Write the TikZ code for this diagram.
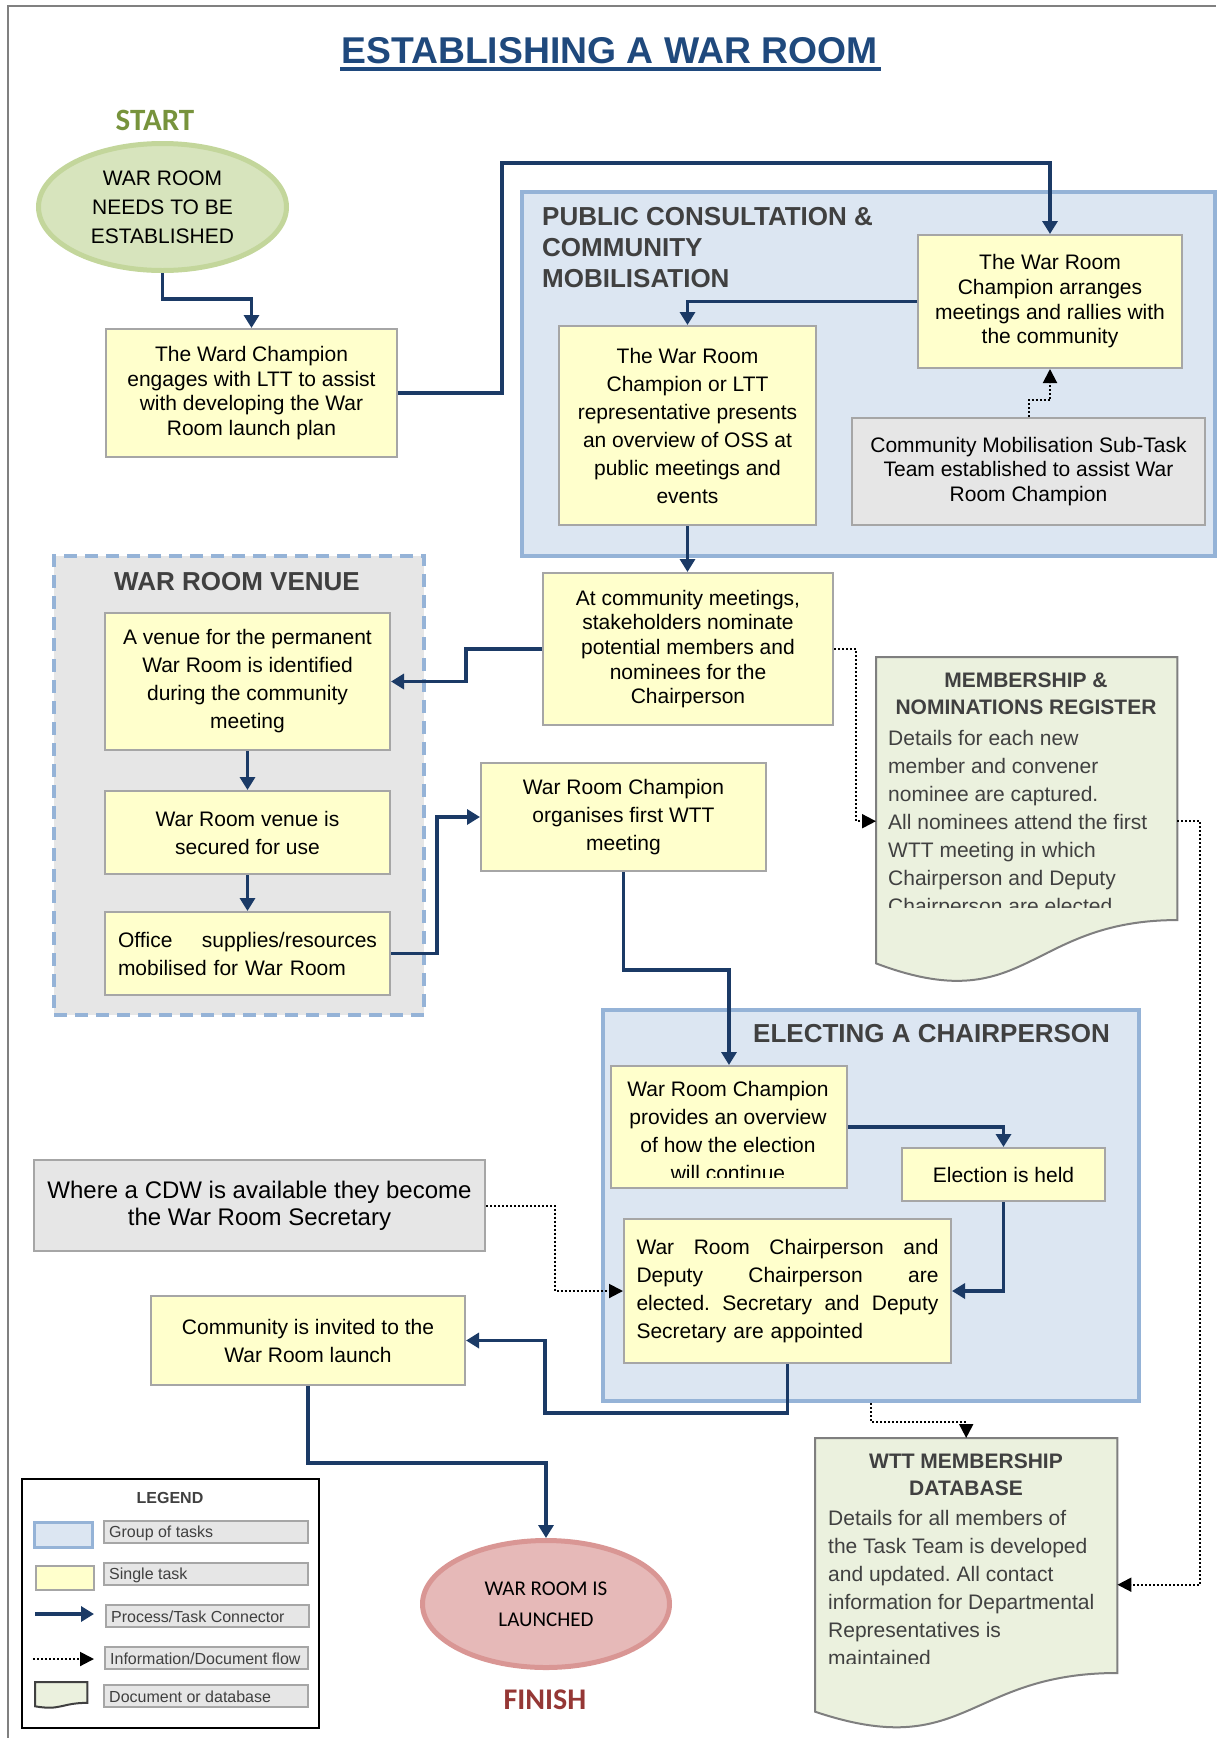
\documentclass[tikz,border=0pt]{standalone}
\usepackage{fontspec}
\setmainfont{Liberation Sans}
\newfontfamily\carlito{Carlito}
\usetikzlibrary{arrows.meta,shapes.geometric,calc}
\frenchspacing

\definecolor{connblue}{HTML}{1B3A66}
\definecolor{taskfill}{HTML}{FFFFCC}
\definecolor{boxline}{HTML}{A6A6A6}
\definecolor{groupfill}{HTML}{DCE6F2}
\definecolor{groupline}{HTML}{95B3D7}
\definecolor{greyfill}{HTML}{E6E6E6}
\definecolor{docfill}{HTML}{EBF1DE}
\definecolor{docline}{HTML}{7F7F7F}
\definecolor{headgrey}{HTML}{404040}
\definecolor{titleblue}{HTML}{1F497D}
\definecolor{startgreen}{HTML}{77933C}
\definecolor{startfill}{HTML}{D7E4BD}
\definecolor{startline}{HTML}{C3D69B}
\definecolor{endfill}{HTML}{E6B9B8}
\definecolor{endline}{HTML}{D99694}
\definecolor{finishred}{HTML}{953735}
\definecolor{framegrey}{HTML}{808080}

\newcommand\setfs[2]{\fontsize{#1}{#2}\selectfont}
% document outline with a wavy bottom edge, drawn over a named area node
% #1 style, #2 node name, #3 height of the area
\newcommand\drawdoc[3]{%
  \draw[#1] (#2.north west) -- (#2.north east)
    -- ($(#2.north east)+(0,0.802*#3)$)
    .. controls ($(#2.north)+(0,0.802*#3)$) and ($(#2.north)+(0,1.1075*#3)$) ..
    ($(#2.north west)+(0,0.934*#3)$) -- cycle;}

\begin{document}
\begin{tikzpicture}[x=1pt,y=-1pt,
  box/.style={draw=boxline, line width=2pt, anchor=north west, inner sep=0pt, align=center},
  task/.style={box, fill=taskfill},
  note/.style={box, fill=greyfill},
  tight/.style={font=\setfs{21}{24.7}},
  loose/.style={font=\setfs{21}{28}},
  group/.style={draw=groupline, line width=4pt, fill=groupfill, anchor=north west, inner sep=0pt},
  grouptitle/.style={text=headgrey, font=\bfseries\setfs{26}{31}, inner sep=0pt},
  conn/.style={draw=connblue, line width=3.5pt, -{Triangle[width=15pt,length=13pt]}},
  info/.style={draw=black, line width=2pt, dash pattern=on 2pt off 2pt, -{Triangle[width=14pt,length=14pt]}},
  doc/.style={draw=docline, line width=2pt, fill=docfill},
  docarea/.style={anchor=north west, inner sep=0pt},
  doctitle/.style={text=headgrey, font=\bfseries\setfs{21}{27}, inner sep=0pt, align=center},
  doctext/.style={text=headgrey, font=\setfs{21}{28}, inner sep=0pt, align=left, anchor=north west},
  keylabel/.style={draw=boxline, line width=1.5pt, fill=greyfill, anchor=north west, inner sep=0pt,
    minimum height=22pt},
  keytext/.style={text=headgrey, font=\setfs{16}{18}, inner sep=0pt, anchor=west},
]
\useasboundingbox (0,0) rectangle (1216,1738);

% page frame
\draw[framegrey, line width=2pt] (8,1738) -- (8,6) -- (1216,6);

% heading
\node[anchor=base, text=titleblue, font=\bfseries\setfs{37.3}{44}, inner sep=0pt] (title) at (609.5,63) {ESTABLISHING A WAR ROOM};
\draw[titleblue, line width=4pt] ($(title.base west)+(-1,6)$) -- ($(title.base east)+(3,6)$);

% start
\node[anchor=base, text=startgreen, font=\carlito\bfseries\setfs{31}{36}, inner sep=0pt] (starthead) at (155,130) {START};
\node[ellipse, draw=startline, line width=5pt, fill=startfill, minimum width=248pt, minimum height=127pt,
  inner sep=0pt, align=center, font=\setfs{21}{29}] (start) at (162.5,207) {WAR ROOM\\NEEDS TO BE\\ESTABLISHED};

\node[task, tight, minimum width=291pt, minimum height=128pt] (ward) at (105,328)
  {The Ward Champion\\engages with LTT to assist\\with developing the War\\Room launch plan};

% public consultation group
\node[group, minimum width=693pt, minimum height=364pt] (pubgroup) at (520,190) {};
\node[grouptitle, anchor=west, align=left] (pubtitle) at (542,248) {PUBLIC CONSULTATION \&\\COMMUNITY\\MOBILISATION};
\node[task, tight, minimum width=264pt, minimum height=133pt] (arranges) at (917,234)
  {The War Room\\Champion arranges\\meetings and rallies with\\the community};
\node[task, loose, minimum width=257pt, minimum height=199pt] (overview) at (558,325)
  {The War Room\\Champion or LTT\\representative presents\\an overview of OSS at\\public meetings and\\events};
\node[note, tight, minimum width=353pt, minimum height=107pt] (subtask) at (851,417)
  {Community Mobilisation Sub-Task\\Team established to assist War\\Room Champion};

\node[task, tight, minimum width=290pt, minimum height=152pt] (community) at (542,572)
  {At community meetings,\\stakeholders nominate\\potential members and\\nominees for the\\Chairperson};

% venue group
\node[draw=groupline, line width=4pt, dash pattern=on 13pt off 8pt, fill=greyfill, anchor=north west,
  inner sep=0pt, minimum width=370pt, minimum height=459pt] (venuegroup) at (52,554) {};
\node[grouptitle] (venuetitle) at (237,582) {WAR ROOM VENUE};
\node[task, loose, minimum width=285pt, minimum height=137pt] (venueid) at (104,612)
  {A venue for the permanent\\War Room is identified\\during the community\\meeting};
\node[task, loose, minimum width=285pt, minimum height=83pt] (secured) at (104,790)
  {War Room venue is\\secured for use};
\node[task, loose, minimum width=285pt, minimum height=83pt, text width=259pt, align=left] (office) at (104,911)
  {Office\hfill supplies/resources\\mobilised for War Room};

\node[task, loose, minimum width=285pt, minimum height=108pt] (organises) at (480,762)
  {War Room Champion\\organises first WTT\\meeting};

% membership register
\node[docarea, minimum width=301pt, minimum height=328pt] (register) at (876,657) {};
\drawdoc{doc}{register}{328}
\node[doctitle] (registertitle) at (1026,694) {MEMBERSHIP \&\\NOMINATIONS REGISTER};
\begin{scope}
  \clip (880,720) rectangle (1175,907);
  \node[doctext] (registertext) at (888,730)
    {Details for each new\\member and convener\\nominee are captured.\\All nominees attend the first\\WTT meeting in which\\Chairperson and Deputy\\Chairperson are elected};
\end{scope}

% electing group
\node[group, minimum width=536pt, minimum height=391pt] (elecgroup) at (601,1008) {};
\node[grouptitle, anchor=west] (electitle) at (753,1034) {ELECTING A CHAIRPERSON};
\node[task, minimum width=236pt, minimum height=122pt] (overview2) at (610,1065) {};
\begin{scope}
  \clip (612,1067) rectangle (844,1177);
  \node[inner sep=0pt, anchor=north, align=center, loose] (overview2text) at (728,1081)
    {War Room Champion\\provides an overview\\of how the election\\will continue};
\end{scope}
\node[task, tight, minimum width=203pt, minimum height=53pt] (election) at (901,1147) {Election is held};
\node[task, loose, minimum width=327pt, minimum height=144pt, text width=302pt, align=left] (elected) at (623,1218)
  {War\hfill Room\hfill Chairperson\hfill and\\Deputy\hfill Chairperson\hfill are\\elected.\hfill Secretary\hfill and\hfill Deputy\\Secretary are appointed};

\node[note, minimum width=451pt, minimum height=91pt, font=\setfs{24}{26.6}] (cdw) at (33,1159)
  {Where a CDW is available they become\\the War Room Secretary};
\node[task, loose, minimum width=314pt, minimum height=89pt] (invited) at (150,1295)
  {Community is invited to the\\War Room launch};

% finish
\node[ellipse, draw=endline, line width=5pt, fill=endfill, minimum width=247pt, minimum height=127pt,
  inner sep=0pt, align=center, font=\carlito\setfs{21}{31}] (launched) at (546,1604) {WAR ROOM IS\\LAUNCHED};
\node[anchor=base, text=finishred, font=\carlito\bfseries\setfs{30}{36}, inner sep=0pt] (finishhead) at (545,1709) {FINISH};

% membership database
\node[docarea, minimum width=302pt, minimum height=293pt] (database) at (815,1438) {};
\drawdoc{doc}{database}{293}
\node[doctitle] (databasetitle) at (966,1475) {WTT MEMBERSHIP\\DATABASE};
\begin{scope}
  \clip (820,1500) rectangle (1112,1663);
  \node[doctext] (databasetext) at (828,1510)
    {Details for all members of\\the Task Team is developed\\and updated. All contact\\information for Departmental\\Representatives is\\maintained};
\end{scope}

% process connectors
\draw[conn] (start.south) -- ++(0,26) -| (ward.north);
\draw[conn] (ward.east) -- ++(104,0) |- ($(arranges.north)+(0,-71)$) -- (arranges.north);
\draw[conn] (arranges.west) -| (overview.north);
\draw[conn] (overview.south) -- (overview.south |- community.north);
\draw[conn] (community.west) -- ++(-76,0) |- (venueid.east);
\draw[conn] (venueid.south) -- (venueid.south |- secured.north);
\draw[conn] (secured.south) -- (secured.south |- office.north);
\draw[conn] (office.east) -- ++(46,0) |- (organises.west);
\draw[conn] (organises.south) -- ++(0,98) -| (overview2.north);
\draw[conn] (overview2.east) -| (election.north);
\draw[conn] (election.south) |- (elected.east);
\draw[conn] (elected.south) -- ++(0,49) -| ($(invited.east)+(79,0)$) -- (invited.east);
\draw[conn] (invited.south) -- ++(0,77) -| (launched.north);

% information flows
\draw[info] (subtask.north) -- ++(0,-17) -| (arranges.south);
\draw[info] (community.east) -- ++(22,0) |- (register.west);
\draw[info] (register.east) -- ++(23,0) |- (database.east);
\draw[info] (cdw.east) -- ++(69,0) |- (elected.west);
\draw[info] (elecgroup.south) -- ++(0,19) -| (database.north);

% legend
\node[draw=black, line width=2pt, anchor=north west, minimum width=297pt, minimum height=249pt, inner sep=0pt] (legend) at (21,1478) {};
\node[text=headgrey, font=\bfseries\setfs{16}{18}, inner sep=0pt] (legendhead) at (170,1498) {LEGEND};
\node[draw=groupline, line width=3pt, fill=groupfill, anchor=north west, minimum width=58pt, minimum height=25pt, inner sep=0pt] (kgroup) at (33,1521) {};
\node[keylabel, minimum width=204pt] (kgrouplabel) at (103,1520) {};
\node[keytext] (kgrouptext) at ($(kgrouplabel.west)+(6,1.5)$) {Group of tasks};
\node[draw=boxline, line width=1.5pt, fill=taskfill, anchor=north west, minimum width=58pt, minimum height=24pt, inner sep=0pt] (ktask) at (35,1565) {};
\node[keylabel, minimum width=204pt] (ktasklabel) at (103,1562) {};
\node[keytext] (ktasktext) at ($(ktasklabel.west)+(6,1.5)$) {Single task};
\coordinate (kconnA) at (35,1614);
\coordinate (kconnB) at (94,1614);
\draw[conn] (kconnA) -- (kconnB);
\node[keylabel, minimum width=203pt] (kconnlabel) at (105,1604) {};
\node[keytext] (kconntext) at ($(kconnlabel.west)+(6,1.5)$) {Process/Task Connector};
\coordinate (kinfoA) at (33,1659);
\coordinate (kinfoB) at (94,1659);
\draw[info] (kinfoA) -- (kinfoB);
\node[keylabel, minimum width=203pt] (kinfolabel) at (104,1646) {};
\node[keytext] (kinfotext) at ($(kinfolabel.west)+(6,1.5)$) {Information/Document flow};
\node[docarea, minimum width=52pt, minimum height=26pt] (kdoc) at (35,1682) {};
\drawdoc{doc, draw=headgrey}{kdoc}{26}
\node[keylabel, minimum width=204pt] (kdoclabel) at (103,1684) {};
\node[keytext] (kdoctext) at ($(kdoclabel.west)+(6,1.5)$) {Document or database};
\end{tikzpicture}
\end{document}
